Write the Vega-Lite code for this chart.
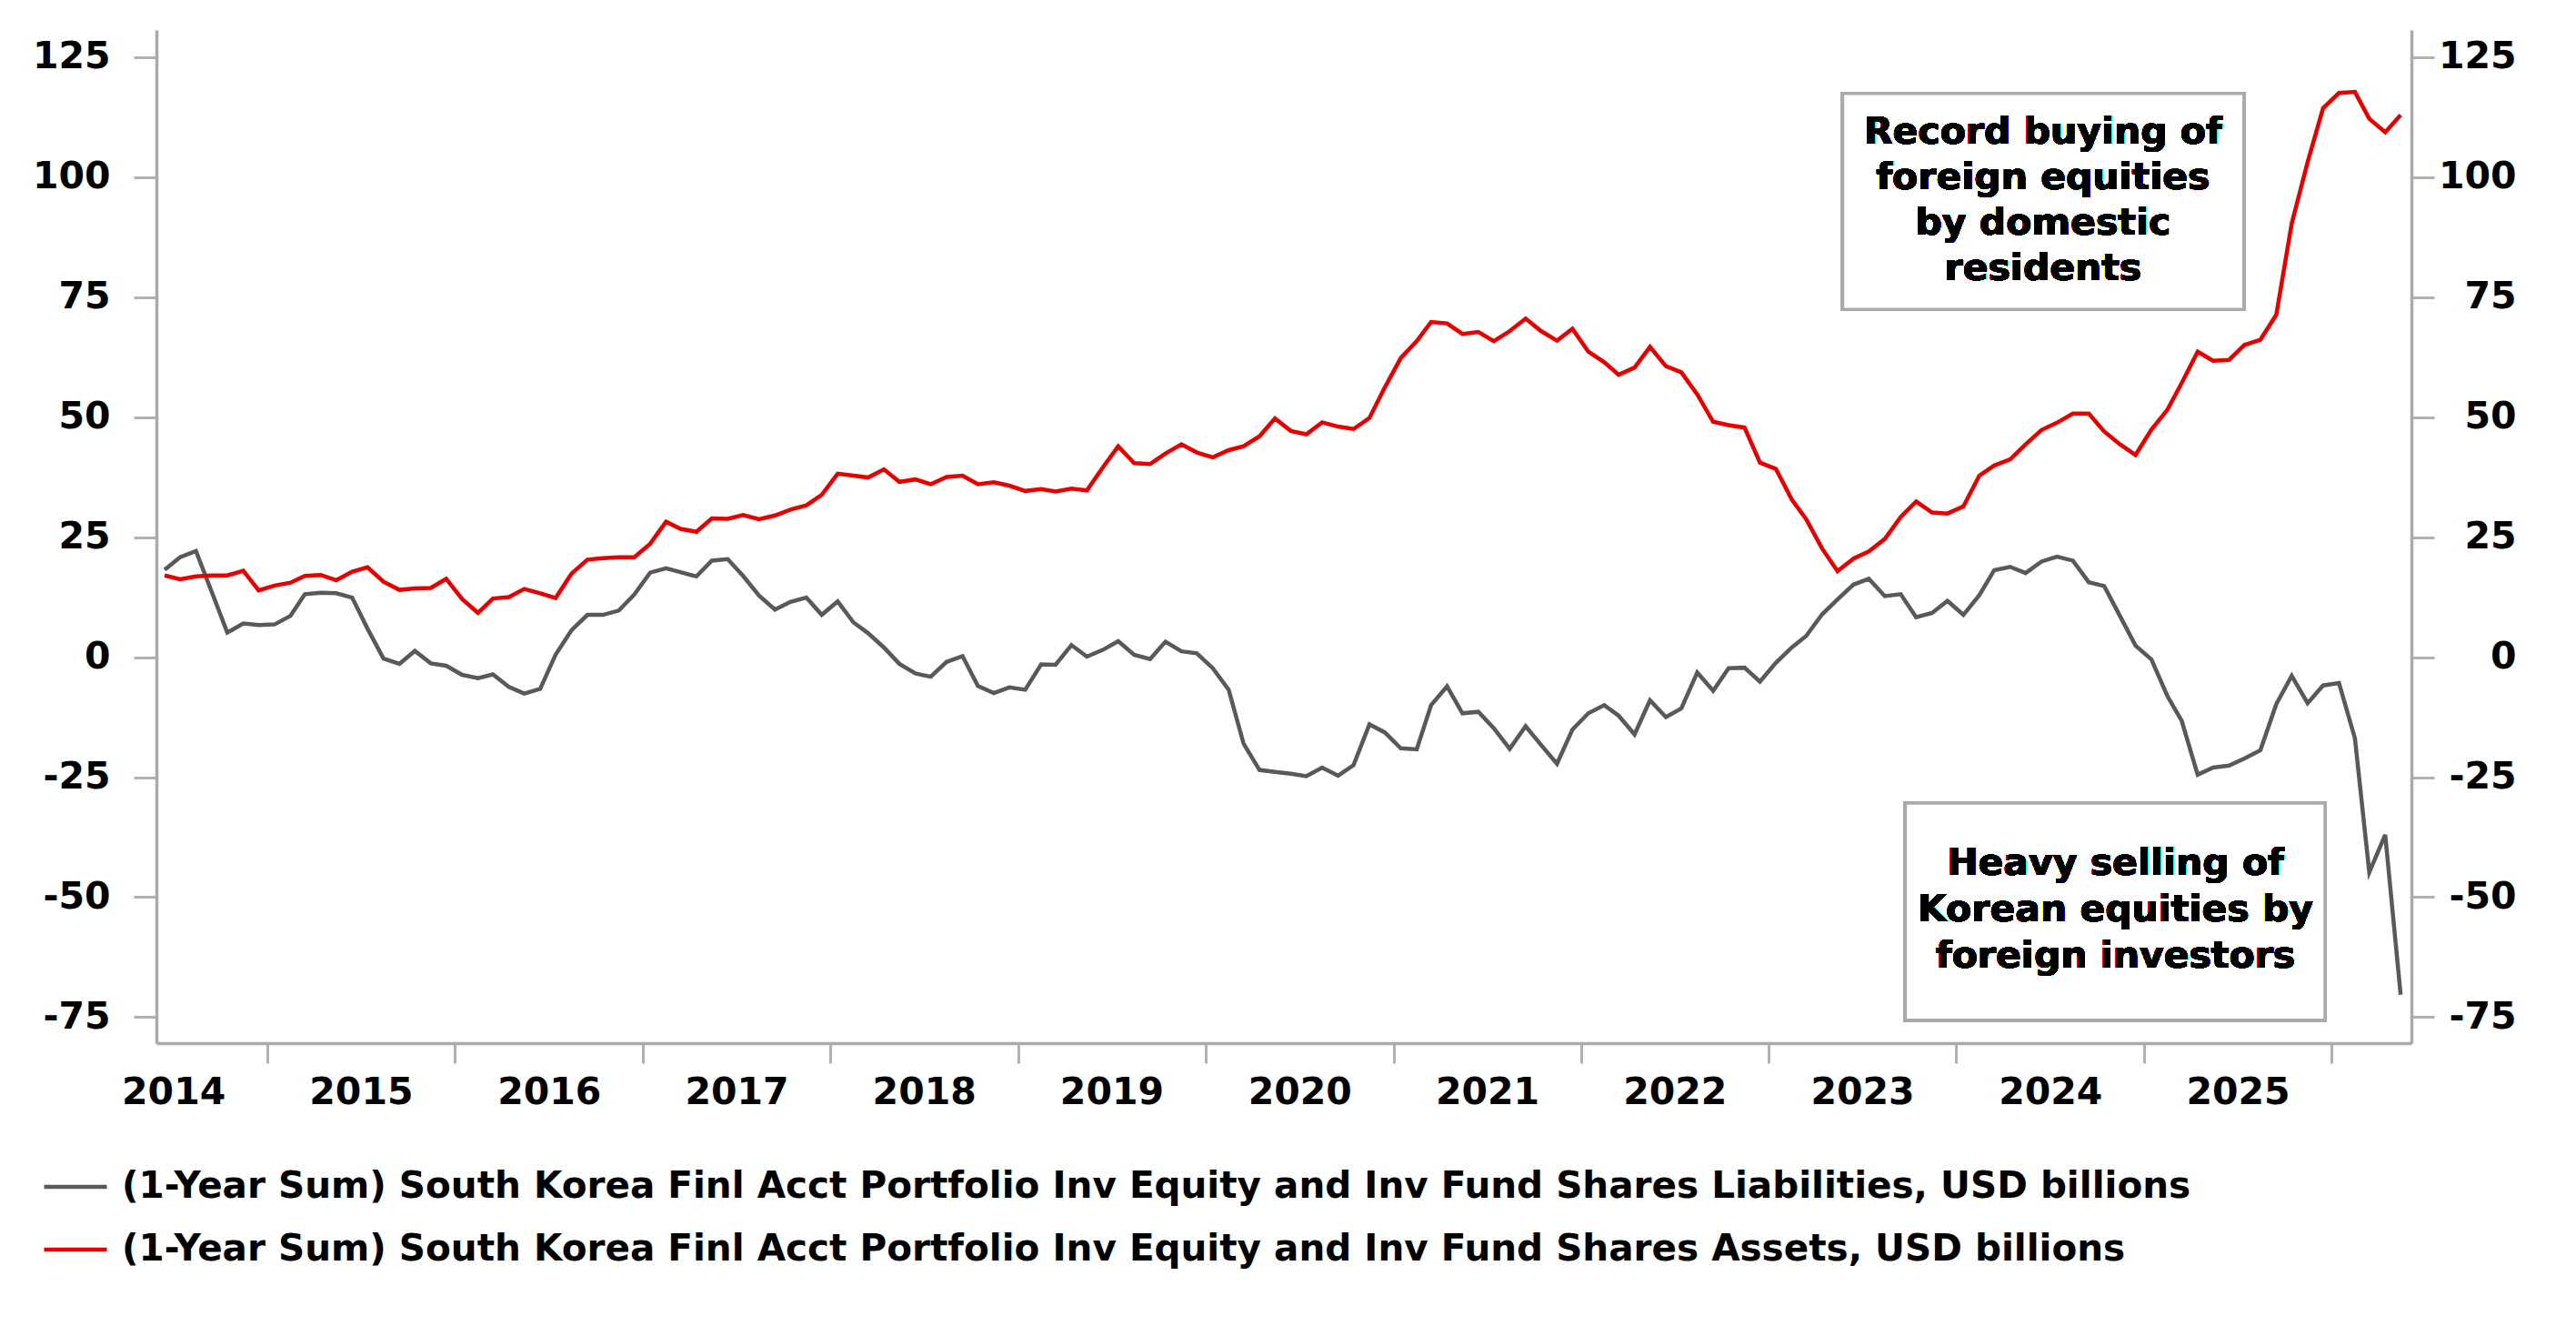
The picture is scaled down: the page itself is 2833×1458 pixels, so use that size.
{
  "$schema": "https://vega.github.io/schema/vega-lite/v6.json",
  "width": 2480,
  "height": 1114,
  "autosize": {"type": "none"},
  "padding": {"left": 172, "top": 33, "right": 181, "bottom": 311},
  "background": "white",
  "config": {
    "font": "DejaVu Sans",
    "view": {"stroke": null},
    "axis": {
      "grid": false,
      "title": null,
      "labelFont": "DejaVu Sans",
      "labelFontSize": 41,
      "labelFontWeight": "bold",
      "labelColor": "black",
      "domainColor": "#aaaaaa",
      "domainWidth": 3.5,
      "tickColor": "#b0b0b0",
      "tickWidth": 3,
      "labelFlush": false,
      "labelOverlap": false
    }
  },
  "data": {
    "values": [
      {"d": "2014-06-15", "L": 18.2, "A": 17.0},
      {"d": "2014-07-15", "L": 20.8, "A": 16.2},
      {"d": "2014-08-15", "L": 22.1, "A": 16.8},
      {"d": "2014-09-15", "L": 13.5, "A": 17.0},
      {"d": "2014-10-15", "L": 5.1, "A": 17.0},
      {"d": "2014-11-15", "L": 7.0, "A": 18.0},
      {"d": "2014-12-15", "L": 6.7, "A": 13.9},
      {"d": "2015-01-15", "L": 6.8, "A": 14.9},
      {"d": "2015-02-15", "L": 8.6, "A": 15.5},
      {"d": "2015-03-15", "L": 13.1, "A": 16.9},
      {"d": "2015-04-15", "L": 13.4, "A": 17.1},
      {"d": "2015-05-15", "L": 13.3, "A": 16.0},
      {"d": "2015-06-15", "L": 12.4, "A": 17.8},
      {"d": "2015-07-15", "L": 5.9, "A": 18.7},
      {"d": "2015-08-15", "L": -0.3, "A": 15.7},
      {"d": "2015-09-15", "L": -1.4, "A": 14.0},
      {"d": "2015-10-15", "L": 1.3, "A": 14.3},
      {"d": "2015-11-15", "L": -1.3, "A": 14.4},
      {"d": "2015-12-15", "L": -1.8, "A": 16.3},
      {"d": "2016-01-15", "L": -3.7, "A": 12.1},
      {"d": "2016-02-15", "L": -4.4, "A": 9.2},
      {"d": "2016-03-15", "L": -3.6, "A": 12.2},
      {"d": "2016-04-15", "L": -6.2, "A": 12.5},
      {"d": "2016-05-15", "L": -7.6, "A": 14.2},
      {"d": "2016-06-15", "L": -6.6, "A": 13.3},
      {"d": "2016-07-15", "L": 0.5, "A": 12.3},
      {"d": "2016-08-15", "L": 5.6, "A": 17.4},
      {"d": "2016-09-15", "L": 8.8, "A": 20.3},
      {"d": "2016-10-15", "L": 8.8, "A": 20.6},
      {"d": "2016-11-15", "L": 9.7, "A": 20.8},
      {"d": "2016-12-15", "L": 13.0, "A": 20.8},
      {"d": "2017-01-15", "L": 17.6, "A": 23.6},
      {"d": "2017-02-15", "L": 18.5, "A": 28.2},
      {"d": "2017-03-15", "L": 17.7, "A": 26.7},
      {"d": "2017-04-15", "L": 16.8, "A": 26.1},
      {"d": "2017-05-15", "L": 20.1, "A": 28.9},
      {"d": "2017-06-15", "L": 20.4, "A": 28.8},
      {"d": "2017-07-15", "L": 16.9, "A": 29.6},
      {"d": "2017-08-15", "L": 12.8, "A": 28.7},
      {"d": "2017-09-15", "L": 9.9, "A": 29.5},
      {"d": "2017-10-15", "L": 11.5, "A": 30.7},
      {"d": "2017-11-15", "L": 12.4, "A": 31.6},
      {"d": "2017-12-15", "L": 8.8, "A": 33.8},
      {"d": "2018-01-15", "L": 11.6, "A": 38.2},
      {"d": "2018-02-15", "L": 7.2, "A": 37.8},
      {"d": "2018-03-15", "L": 5.0, "A": 37.4},
      {"d": "2018-04-15", "L": 2.0, "A": 39.1},
      {"d": "2018-05-15", "L": -1.4, "A": 36.5},
      {"d": "2018-06-15", "L": -3.4, "A": 37.0},
      {"d": "2018-07-15", "L": -4.1, "A": 36.0},
      {"d": "2018-08-15", "L": -1.0, "A": 37.5},
      {"d": "2018-09-15", "L": 0.2, "A": 37.8},
      {"d": "2018-10-15", "L": -6.0, "A": 36.0},
      {"d": "2018-11-15", "L": -7.5, "A": 36.4},
      {"d": "2018-12-15", "L": -6.3, "A": 35.7},
      {"d": "2019-01-15", "L": -6.8, "A": 34.6},
      {"d": "2019-02-15", "L": -1.5, "A": 35.0},
      {"d": "2019-03-15", "L": -1.6, "A": 34.5},
      {"d": "2019-04-15", "L": 2.5, "A": 35.1},
      {"d": "2019-05-15", "L": 0.1, "A": 34.7},
      {"d": "2019-06-15", "L": 1.5, "A": 39.5},
      {"d": "2019-07-15", "L": 3.3, "A": 43.9},
      {"d": "2019-08-15", "L": 0.5, "A": 40.4},
      {"d": "2019-09-15", "L": -0.4, "A": 40.2},
      {"d": "2019-10-15", "L": 3.2, "A": 42.4},
      {"d": "2019-11-15", "L": 1.2, "A": 44.3},
      {"d": "2019-12-15", "L": 0.8, "A": 42.6},
      {"d": "2020-01-15", "L": -2.3, "A": 41.6},
      {"d": "2020-02-15", "L": -6.8, "A": 43.1},
      {"d": "2020-03-15", "L": -18.0, "A": 43.9},
      {"d": "2020-04-15", "L": -23.5, "A": 46.0},
      {"d": "2020-05-15", "L": -23.9, "A": 49.7},
      {"d": "2020-06-15", "L": -24.3, "A": 47.1},
      {"d": "2020-07-15", "L": -24.8, "A": 46.4},
      {"d": "2020-08-15", "L": -23.0, "A": 48.9},
      {"d": "2020-09-15", "L": -24.7, "A": 48.0},
      {"d": "2020-10-15", "L": -22.5, "A": 47.5},
      {"d": "2020-11-15", "L": -14.0, "A": 49.8},
      {"d": "2020-12-15", "L": -15.7, "A": 56.2},
      {"d": "2021-01-15", "L": -19.0, "A": 62.3},
      {"d": "2021-02-15", "L": -19.2, "A": 65.8},
      {"d": "2021-03-15", "L": -10.0, "A": 69.8},
      {"d": "2021-04-15", "L": -6.1, "A": 69.5},
      {"d": "2021-05-15", "L": -11.7, "A": 67.3},
      {"d": "2021-06-15", "L": -11.4, "A": 67.7},
      {"d": "2021-07-15", "L": -14.8, "A": 65.8},
      {"d": "2021-08-15", "L": -19.1, "A": 67.9},
      {"d": "2021-09-15", "L": -14.4, "A": 70.5},
      {"d": "2021-10-15", "L": -18.3, "A": 67.9},
      {"d": "2021-11-15", "L": -22.2, "A": 65.9},
      {"d": "2021-12-15", "L": -15.1, "A": 68.4},
      {"d": "2022-01-15", "L": -11.7, "A": 63.6},
      {"d": "2022-02-15", "L": -10.0, "A": 61.4},
      {"d": "2022-03-15", "L": -12.2, "A": 58.8},
      {"d": "2022-04-15", "L": -16.1, "A": 60.3},
      {"d": "2022-05-15", "L": -9.0, "A": 64.6},
      {"d": "2022-06-15", "L": -12.5, "A": 60.6},
      {"d": "2022-07-15", "L": -10.7, "A": 59.3},
      {"d": "2022-08-15", "L": -3.2, "A": 54.7},
      {"d": "2022-09-15", "L": -7.0, "A": 49.0},
      {"d": "2022-10-15", "L": -2.3, "A": 48.3},
      {"d": "2022-11-15", "L": -2.2, "A": 47.8},
      {"d": "2022-12-15", "L": -5.1, "A": 40.5},
      {"d": "2023-01-15", "L": -1.2, "A": 39.2},
      {"d": "2023-02-15", "L": 2.0, "A": 32.8},
      {"d": "2023-03-15", "L": 4.4, "A": 28.7},
      {"d": "2023-04-15", "L": 8.9, "A": 22.6},
      {"d": "2023-05-15", "L": 12.0, "A": 17.9},
      {"d": "2023-06-15", "L": 15.1, "A": 20.5},
      {"d": "2023-07-15", "L": 16.3, "A": 22.0},
      {"d": "2023-08-15", "L": 12.7, "A": 24.6},
      {"d": "2023-09-15", "L": 13.1, "A": 29.2},
      {"d": "2023-10-15", "L": 8.3, "A": 32.4},
      {"d": "2023-11-15", "L": 9.2, "A": 30.1},
      {"d": "2023-12-15", "L": 11.7, "A": 29.9},
      {"d": "2024-01-15", "L": 8.8, "A": 31.4},
      {"d": "2024-02-15", "L": 12.9, "A": 37.8},
      {"d": "2024-03-15", "L": 18.1, "A": 39.9},
      {"d": "2024-04-15", "L": 18.8, "A": 41.2},
      {"d": "2024-05-15", "L": 17.5, "A": 44.3},
      {"d": "2024-06-15", "L": 19.9, "A": 47.3},
      {"d": "2024-07-15", "L": 20.9, "A": 48.8},
      {"d": "2024-08-15", "L": 20.1, "A": 50.7},
      {"d": "2024-09-15", "L": 15.6, "A": 50.7},
      {"d": "2024-10-15", "L": 14.8, "A": 47.0},
      {"d": "2024-11-15", "L": 8.5, "A": 44.3},
      {"d": "2024-12-15", "L": 2.4, "A": 42.1},
      {"d": "2025-01-15", "L": -0.5, "A": 47.4},
      {"d": "2025-02-15", "L": -8.1, "A": 51.5},
      {"d": "2025-03-15", "L": -13.3, "A": 57.1},
      {"d": "2025-04-15", "L": -24.5, "A": 63.6},
      {"d": "2025-05-15", "L": -23.0, "A": 61.7},
      {"d": "2025-06-15", "L": -22.6, "A": 61.9},
      {"d": "2025-07-15", "L": -21.1, "A": 65.0},
      {"d": "2025-08-15", "L": -19.4, "A": 66.1},
      {"d": "2025-09-15", "L": -9.8, "A": 71.3},
      {"d": "2025-10-15", "L": -3.9, "A": 90.3},
      {"d": "2025-11-15", "L": -9.6, "A": 103.1},
      {"d": "2025-12-15", "L": -5.9, "A": 114.3},
      {"d": "2026-01-15", "L": -5.4, "A": 117.5},
      {"d": "2026-02-15", "L": -16.9, "A": 117.7},
      {"d": "2026-03-15", "L": -44.8, "A": 112.1},
      {"d": "2026-04-15", "L": -37.0, "A": 109.3},
      {"d": "2026-05-15", "L": -70.3, "A": 112.9}
    ]
  },
  "layer": [
    {
      "transform": [{"fold": ["L", "A"], "as": ["series", "value"]}],
      "mark": {"type": "line", "strokeWidth": 4.5},
      "encoding": {
        "x": {
          "field": "d",
          "type": "temporal",
          "scale": {
            "type": "utc",
            "domain": [
              {"year": 2014, "month": 5, "date": 30, "utc": true},
              {"year": 2026, "month": 6, "date": 5, "utc": true}
            ]
          },
          "axis": {
            "orient": "bottom",
            "labels": false,
            "tickSize": 22,
            "values": [
              {"year": 2015, "month": 1, "date": 1, "utc": true},
              {"year": 2016, "month": 1, "date": 1, "utc": true},
              {"year": 2017, "month": 1, "date": 1, "utc": true},
              {"year": 2018, "month": 1, "date": 1, "utc": true},
              {"year": 2019, "month": 1, "date": 1, "utc": true},
              {"year": 2020, "month": 1, "date": 1, "utc": true},
              {"year": 2021, "month": 1, "date": 1, "utc": true},
              {"year": 2022, "month": 1, "date": 1, "utc": true},
              {"year": 2023, "month": 1, "date": 1, "utc": true},
              {"year": 2024, "month": 1, "date": 1, "utc": true},
              {"year": 2025, "month": 1, "date": 1, "utc": true},
              {"year": 2026, "month": 1, "date": 1, "utc": true}
            ]
          }
        },
        "y": {
          "field": "value",
          "type": "quantitative",
          "scale": {"domain": [-80.4, 130.6], "nice": false, "zero": false},
          "axis": {
            "orient": "left",
            "values": [-75, -50, -25, 0, 25, 50, 75, 100, 125],
            "labelExpr": "datum.value < 0 ? '-' + abs(datum.value) : '' + datum.value",
            "tickSize": 25,
            "labelPadding": 26
          }
        },
        "color": {
          "field": "series",
          "type": "nominal",
          "scale": {"domain": ["L", "A"], "range": ["#595959", "#e60000"]},
          "legend": {
            "orient": "none",
            "legendX": -126,
            "legendY": 1235,
            "direction": "vertical",
            "title": null,
            "symbolType": "stroke",
            "symbolSize": 4761,
            "symbolStrokeWidth": 4.5,
            "labelFont": "DejaVu Sans",
            "labelFontSize": 40.5,
            "labelFontWeight": "bold",
            "labelColor": "black",
            "labelOffset": 14,
            "labelLimit": 0,
            "rowPadding": 11,
            "labelExpr": "datum.value == 'L' ? '(1-Year Sum) South Korea Finl Acct Portfolio Inv Equity and Inv Fund Shares Liabilities, USD billions' : '(1-Year Sum) South Korea Finl Acct Portfolio Inv Equity and Inv Fund Shares Assets, USD billions'"
          }
        }
      }
    },
    {
      "mark": {"type": "rect", "fill": "white", "stroke": "#aaaaaa", "strokeWidth": 3.5},
      "encoding": {
        "x": {"datum": {"year": 2023, "month": 5, "date": 25, "utc": true}, "type": "temporal", "axis": null},
        "x2": {"datum": {"year": 2025, "month": 7, "date": 14, "utc": true}},
        "y": {"datum": 117.4, "type": "quantitative", "axis": null},
        "y2": {"datum": 72.4}
      }
    },
    {
      "mark": {"type": "rect", "fill": "white", "stroke": "#aaaaaa", "strokeWidth": 3.5},
      "encoding": {
        "x": {"datum": {"year": 2023, "month": 9, "date": 24, "utc": true}, "type": "temporal", "axis": null},
        "x2": {"datum": {"year": 2025, "month": 12, "date": 19, "utc": true}},
        "y": {"datum": -30.4, "type": "quantitative", "axis": null},
        "y2": {"datum": -75.6}
      }
    },
    {
      "mark": {
        "type": "text",
        "text": ["Record buying of", "foreign equities", "by domestic", "residents"],
        "font": "DejaVu Sans",
        "fontSize": 41,
        "fontWeight": "bold",
        "color": "black",
        "align": "center",
        "baseline": "alphabetic",
        "lineHeight": 50
      },
      "encoding": {
        "x": {"datum": {"year": 2024, "month": 6, "date": 18, "utc": true}, "type": "temporal", "axis": null},
        "y": {"datum": 106.95, "type": "quantitative", "axis": null}
      }
    },
    {
      "mark": {
        "type": "text",
        "text": ["Heavy selling of", "Korean equities by", "foreign investors"],
        "font": "DejaVu Sans",
        "fontSize": 41,
        "fontWeight": "bold",
        "color": "black",
        "align": "center",
        "baseline": "alphabetic",
        "lineHeight": 51
      },
      "encoding": {
        "x": {
          "datum": {"year": 2024, "month": 11, "date": 6, "utc": true},
          "type": "temporal",
          "axis": {
            "orient": "bottom",
            "domain": false,
            "ticks": false,
            "labelPadding": 34,
            "format": "%Y",
            "values": [
              {"year": 2014, "month": 7, "date": 2, "utc": true},
              {"year": 2015, "month": 7, "date": 2, "utc": true},
              {"year": 2016, "month": 7, "date": 2, "utc": true},
              {"year": 2017, "month": 7, "date": 2, "utc": true},
              {"year": 2018, "month": 7, "date": 2, "utc": true},
              {"year": 2019, "month": 7, "date": 2, "utc": true},
              {"year": 2020, "month": 7, "date": 2, "utc": true},
              {"year": 2021, "month": 7, "date": 2, "utc": true},
              {"year": 2022, "month": 7, "date": 2, "utc": true},
              {"year": 2023, "month": 7, "date": 2, "utc": true},
              {"year": 2024, "month": 7, "date": 2, "utc": true},
              {"year": 2025, "month": 7, "date": 2, "utc": true}
            ]
          }
        },
        "y": {
          "datum": -45.3,
          "type": "quantitative",
          "axis": {
            "orient": "right",
            "values": [-75, -50, -25, 0, 25, 50, 75, 100, 125],
            "labelExpr": "datum.value < 0 ? '-' + abs(datum.value) : '' + datum.value",
            "tickSize": 25,
            "labelAlign": "right",
            "labelPadding": 90
          }
        }
      }
    }
  ],
  "resolve": {"axis": {"x": "independent", "y": "independent"}}
}
